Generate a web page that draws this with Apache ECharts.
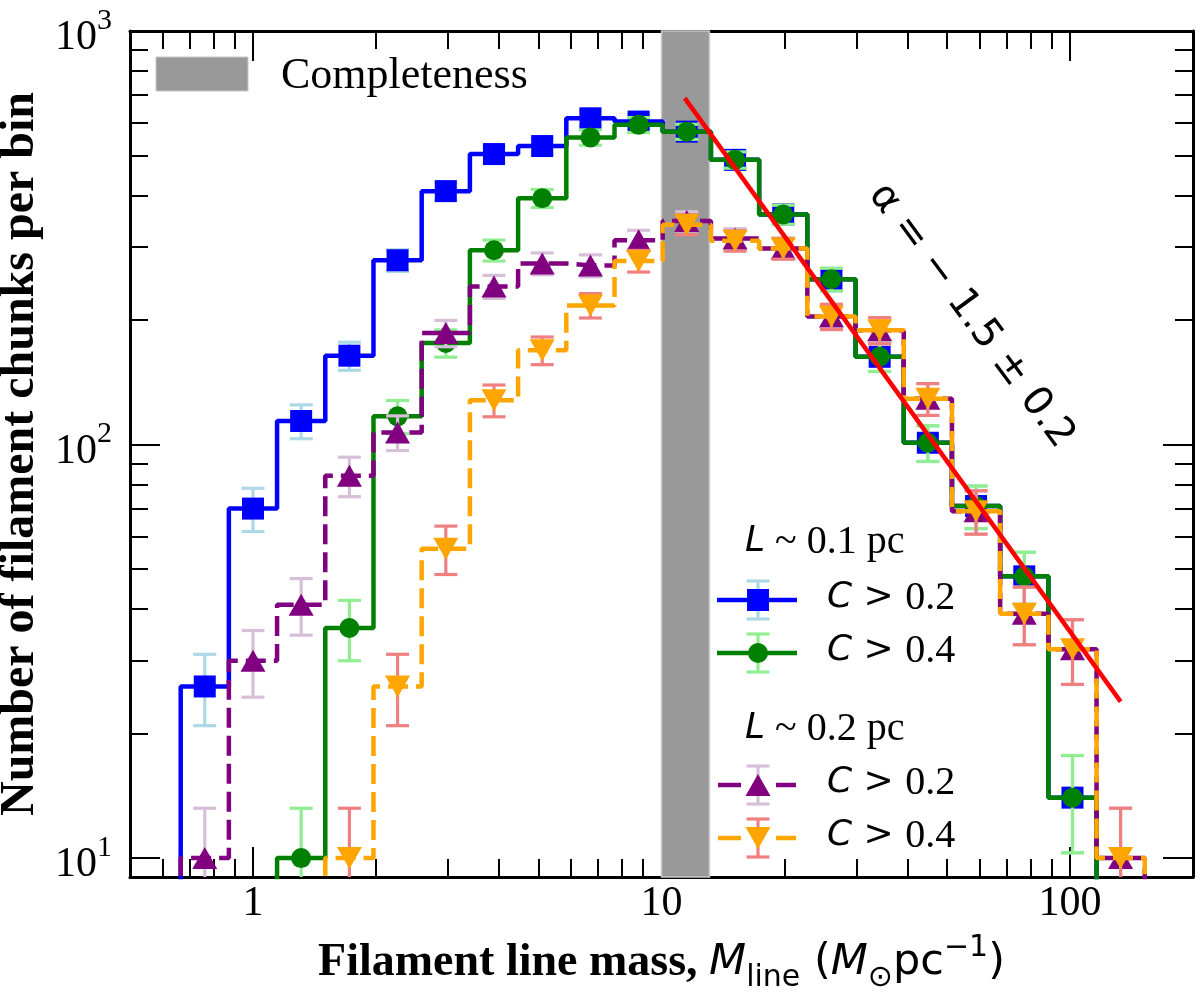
<!DOCTYPE html>
<html><head><meta charset="utf-8">
<script src="https://cdn.jsdelivr.net/npm/echarts@6/dist/echarts.min.js"></script>
<style>html,body{margin:0;padding:0;background:#fff}#c{width:1200px;height:999px}</style>
</head><body><div id="c"></div>
<script>
// ---------------- data ----------------
const OFF = 1; // bin count below the plotted floor (drawn off-axis, clipped)
const binCenters = [0.581, 0.762, 1.0, 1.312, 1.722, 2.259, 2.965, 3.890, 5.105, 6.699, 8.790,
                    11.53, 15.14, 19.86, 26.06, 34.20, 44.87, 58.88, 77.27, 101.4, 133.0, 174.6];
// L ~ 0.1 pc, C > 0.2
const blueVals = [OFF, 26, 70, 114, 164, 279, 410, 504, 527, 615, 604, 571, 488, 360, 251, 163, 101, 71, 48, 14, OFF, null];
const blueErr  = [null, 5.1, 8.4, 10.7, 12.8, 16.7, 20.2, 22.4, 23.0, 24.8, 24.6, 23.9, 22.1, 19.0, 15.8, 12.8, 10.0, 8.4, 6.9, 3.7, null, null];
// L ~ 0.1 pc, C > 0.4
const greenVals = [null, null, OFF, 10, 36, 117, 176, 295, 394, 553, 593, 571, 488, 360, 251, 163, 101, 71, 48, 14, OFF, null];
const greenErr  = [null, null, null, 3.2, 6.0, 10.8, 13.3, 17.2, 19.8, 23.5, 24.4, 23.9, 22.1, 19.0, 15.8, 12.8, 10.0, 8.4, 6.9, 3.7, null, null];
// L ~ 0.2 pc, C > 0.2
const purpleVals = [OFF, 10, 30, 41, 84, 107, 186, 241, 274, 271, 312, 347, 315, 298, 204, 189, 129, 69, 39, 32, 10, OFF];
const purpleErr  = [null, 3.2, 5.5, 6.4, 9.2, 10.3, 13.6, 15.5, 16.6, 16.5, 17.7, 18.6, 17.7, 17.3, 14.3, 13.7, 11.4, 8.3, 6.2, 5.7, 3.2, null];
// L ~ 0.2 pc, C > 0.4
const orangeVals = [null, null, null, OFF, 10, 26, 56, 128, 169, 217, 278, 340, 311, 298, 204, 189, 129, 69, 39, 32, 10, OFF];
const orangeErr  = [null, null, null, null, 3.2, 5.1, 7.5, 11.3, 13.0, 14.7, 16.7, 18.4, 17.6, 17.3, 14.3, 13.7, 11.4, 8.3, 6.2, 5.7, 3.2, null];
// power-law fit line end points
const fitX = [11.4, 133];
const fitY = [688, 23.9];
// completeness band
const completeBand = [10, 13.1];
// axis ticks
const xMajor = [1, 10, 100];
const xMinor = [0.6, 0.7, 0.8, 0.9, 2, 3, 4, 5, 6, 7, 8, 9, 20, 30, 40, 50, 60, 70, 80, 90];
const yMajor = [10, 100, 1000];
const yMinor = [20, 30, 40, 50, 60, 70, 80, 90, 200, 300, 400, 500, 600, 700, 800, 900];

// ---------------- chart ----------------
const SERIF = '"Liberation Serif", "Times New Roman", serif';
const SANS = '"DejaVu Sans", "Noto Sans", sans-serif';
const chart = echarts.init(document.getElementById('c'));

const GRID = {left: 130, right: 7, top: 31, bottom: 122, containLabel: false, outerBoundsMode: 'none'};
const DASH = [20, 8];

function xAxisCfg(grid, pos, ticks, len, extra) {
  return Object.assign({
    type: 'log', logBase: 10, min: 0.5, max: 200, gridIndex: grid, position: pos,
    splitLine: {show: false}, minorTick: {show: false}, minorSplitLine: {show: false},
    axisLine: {show: grid === 0, onZero: false, lineStyle: {color: '#000', width: 3}},
    axisTick: {show: true, inside: true, length: len, customValues: ticks, lineStyle: {color: '#000', width: 2}},
    axisLabel: {show: false}
  }, extra || {});
}
function yAxisCfg(grid, pos, ticks, len, extra) {
  return Object.assign({
    type: 'log', logBase: 10, min: 9, max: 1000, gridIndex: grid, position: pos,
    splitLine: {show: false}, minorTick: {show: false}, minorSplitLine: {show: false},
    axisLine: {show: grid === 0, onZero: false, lineStyle: {color: '#000', width: 3}},
    axisTick: {show: true, inside: true, length: len, customValues: ticks, lineStyle: {color: '#000', width: 2}},
    axisLabel: {show: false}
  }, extra || {});
}

function histSeries(name, vals, color, dash, symbol, symSize, symRotate, z) {
  const data = [];
  binCenters.forEach((x, i) => {
    if (vals[i] == null) return;
    if (vals[i] === OFF) data.push({value: [x, vals[i]], symbol: 'none'});
    else data.push([x, vals[i]]);
  });
  return {
    name, type: 'line', xAxisIndex: 0, yAxisIndex: 0, step: 'middle', z,
    data, symbol, symbolSize: symSize, symbolRotate: symRotate,
    itemStyle: {color, borderWidth: 0},
    lineStyle: {color, width: 4.5, type: dash || 'solid', cap: 'butt'},
    clip: true, silent: true, animation: false
  };
}
function errSeries(vals, errs, color, z) {
  const data = [];
  binCenters.forEach((x, i) => {
    if (errs[i] != null) data.push([x, vals[i] - errs[i], vals[i] + errs[i]]);
  });
  return {
    type: 'custom', xAxisIndex: 0, yAxisIndex: 0, z, clip: true, silent: true, animation: false,
    encode: {x: 0, y: [1, 2]}, data,
    renderItem(params, api) {
      const x = api.value(0);
      const p0 = api.coord([x, api.value(1)]);
      const p1 = api.coord([x, api.value(2)]);
      const hw = 11.5, st = {stroke: color, lineWidth: 3.2};
      return {type: 'group', children: [
        {type: 'line', shape: {x1: p0[0], y1: p0[1], x2: p1[0], y2: p1[1]}, style: st},
        {type: 'line', shape: {x1: p0[0] - hw, y1: p0[1], x2: p0[0] + hw, y2: p0[1]}, style: st},
        {type: 'line', shape: {x1: p1[0] - hw, y1: p1[1], x2: p1[0] + hw, y2: p1[1]}, style: st}
      ]};
    }
  };
}

const xLabelRich = {
  b: {fontFamily: SERIF, fontWeight: 'bold', fontSize: 46, lineHeight: 60, color: '#000'},
  i: {fontFamily: SANS, fontStyle: 'italic', fontSize: 43, lineHeight: 60, color: '#000'},
  n: {fontFamily: SANS, fontSize: 43, lineHeight: 60, color: '#000'},
  sub: {fontFamily: SANS, fontSize: 30, lineHeight: 32, verticalAlign: 'bottom', color: '#000'},
  sup: {fontFamily: SANS, fontSize: 30, lineHeight: 34, verticalAlign: 'top', color: '#000'}
};

const option = {
  backgroundColor: '#fff',
  animation: false,
  grid: [Object.assign({}, GRID), Object.assign({}, GRID)],
  xAxis: [
    xAxisCfg(0, 'bottom', xMajor, 30, {
      axisLabel: {show: true, customValues: xMajor, margin: 6, fontFamily: SERIF, fontSize: 42, color: '#000',
        formatter: v => String(Math.round(v))},
      name: '{b|Filament line mass, }{i|M}{sub|line}{n| (}{i|M}{sub|⊙}{n|pc}{sup|−1}{n|)}',
      nameLocation: 'middle', nameGap: 56,
      nameTextStyle: {rich: xLabelRich}
    }),
    xAxisCfg(0, 'top', xMajor, 30),
    xAxisCfg(1, 'bottom', xMinor, 18),
    xAxisCfg(1, 'top', xMinor, 18)
  ],
  yAxis: [
    yAxisCfg(0, 'left', yMajor, 30, {
      axisLabel: {show: true, customValues: yMajor, margin: 18, padding: [14, 0, 0, 0],
        formatter: v => '{b|10}{s|' + Math.round(Math.log10(v)) + '}',
        rich: {
          b: {fontFamily: SERIF, fontSize: 42, lineHeight: 64, color: '#000'},
          s: {fontFamily: SERIF, fontSize: 30, lineHeight: 20, verticalAlign: 'top', color: '#000'}
        }},
      name: 'Number of filament chunks per bin',
      nameLocation: 'middle', nameGap: 74,
      nameTextStyle: {fontFamily: SERIF, fontWeight: 'bold', fontSize: 48, color: '#000'}
    }),
    yAxisCfg(0, 'right', yMajor, 30),
    yAxisCfg(1, 'left', yMinor, 18),
    yAxisCfg(1, 'right', yMinor, 18)
  ],
  series: [
    {
      type: 'custom', xAxisIndex: 0, yAxisIndex: 0, z: 1, silent: true, animation: false,
      data: [[completeBand[0], completeBand[1]]], encode: {x: [0, 1]},
      renderItem(params, api) {
        const a = api.coord([api.value(0), 100]);
        const b = api.coord([api.value(1), 100]);
        const cs = params.coordSys;
        return {type: 'rect', shape: {x: a[0], y: cs.y, width: b[0] - a[0], height: cs.height},
          style: {fill: '#999999', stroke: '#c8c8c8', lineWidth: 1.5}};
      }
    },
    errSeries(blueVals, blueErr, '#add8e6', 2),
    histSeries('L~0.1pc C>0.2', blueVals, '#0000ff', null, 'rect', 22, 0, 3),
    errSeries(greenVals, greenErr, '#90ee90', 4),
    histSeries('L~0.1pc C>0.4', greenVals, '#008000', null, 'circle', 20, 0, 5),
    errSeries(purpleVals, purpleErr, '#d8bfd8', 6),
    histSeries('L~0.2pc C>0.2', purpleVals, '#800080', DASH, 'triangle', [25, 22], 0, 7),
    errSeries(orangeVals, orangeErr, '#f08080', 8),
    histSeries('L~0.2pc C>0.4', orangeVals, '#ffa500', DASH, 'triangle', [25, 22], 180, 9),
    {
      type: 'line', xAxisIndex: 0, yAxisIndex: 0, z: 12, silent: true, animation: false,
      data: fitX.map((x, i) => [x, fitY[i]]), symbol: 'none', clip: true,
      lineStyle: {color: '#ff0000', width: 4.5}
    }
  ],
  graphic: []
};

// ---------------- legends & annotation ----------------
const G = [];
// completeness legend
G.push({type: 'rect', shape: {x: 156, y: 57, width: 92, height: 34}, style: {fill: '#999999', stroke: '#c8c8c8', lineWidth: 1}, z: 50});
G.push({type: 'text', x: 281, y: 76, z: 50, style: {text: 'Completeness', fontFamily: SERIF, fontSize: 44, fill: '#000', align: 'left', verticalAlign: 'middle'}});

const legRich = {
  i: {fontFamily: SANS, fontStyle: 'italic', fontSize: 36, fill: '#000'},
  o: {fontFamily: SANS, fontSize: 36, fill: '#000'},
  d: {fontFamily: SERIF, fontSize: 40, fill: '#000'},
  s: {fontFamily: SERIF, fontSize: 40, fill: '#000'}
};
function header(y, txt) {
  G.push({type: 'text', x: 745, y, z: 50, style: {text: '{i|L}{s| ~ ' + txt + ' pc}', rich: legRich, align: 'left', verticalAlign: 'middle'}});
}
function entry(y, color, ecolor, dashed, marker, label) {
  const lw = {stroke: color, lineWidth: 4.5};
  if (dashed) {
    G.push({type: 'line', z: 50, shape: {x1: 718, y1: y, x2: 741, y2: y}, style: lw});
    G.push({type: 'line', z: 50, shape: {x1: 776, y1: y, x2: 796, y2: y}, style: lw});
  } else {
    G.push({type: 'line', z: 50, shape: {x1: 717, y1: y, x2: 797, y2: y}, style: lw});
  }
  const es = {stroke: ecolor, lineWidth: 3.2};
  G.push({type: 'line', z: 51, shape: {x1: 758, y1: y - 19, x2: 758, y2: y + 19}, style: es});
  G.push({type: 'line', z: 51, shape: {x1: 746.5, y1: y - 19, x2: 769.5, y2: y - 19}, style: es});
  G.push({type: 'line', z: 51, shape: {x1: 746.5, y1: y + 19, x2: 769.5, y2: y + 19}, style: es});
  let m;
  if (marker === 'rect') m = {type: 'rect', shape: {x: 747, y: y - 11, width: 22, height: 22}};
  else if (marker === 'circle') m = {type: 'circle', shape: {cx: 758, cy: y, r: 10}};
  else if (marker === 'up') m = {type: 'polygon', shape: {points: [[758, y - 11], [770.5, y + 11], [745.5, y + 11]]}};
  else m = {type: 'polygon', shape: {points: [[745.5, y - 11], [770.5, y - 11], [758, y + 11]]}};
  m.z = 52; m.style = {fill: color};
  G.push(m);
  G.push({type: 'text', x: 827, y: y - 2, z: 50, style: {text: '{i|C}{o| > }{d|' + label + '}', rich: legRich, align: 'left', verticalAlign: 'middle'}});
}
header(542, '0.1');
entry(600, '#0000ff', '#add8e6', false, 'rect', '0.2');
entry(653, '#008000', '#90ee90', false, 'circle', '0.4');
header(729, '0.2');
entry(785, '#800080', '#d8bfd8', true, 'up', '0.2');
entry(838, '#ffa500', '#f08080', true, 'down', '0.4');

// slope annotation
G.push({type: 'text', x: 971, y: 316, z: 50, rotation: -53.5 * Math.PI / 180,
  style: {text: 'α = − 1.5 ± 0.2', fontFamily: SANS, fontSize: 40, fill: '#000', align: 'center', verticalAlign: 'middle'}});

option.graphic = G;
chart.setOption(option);
</script>
</body></html>
